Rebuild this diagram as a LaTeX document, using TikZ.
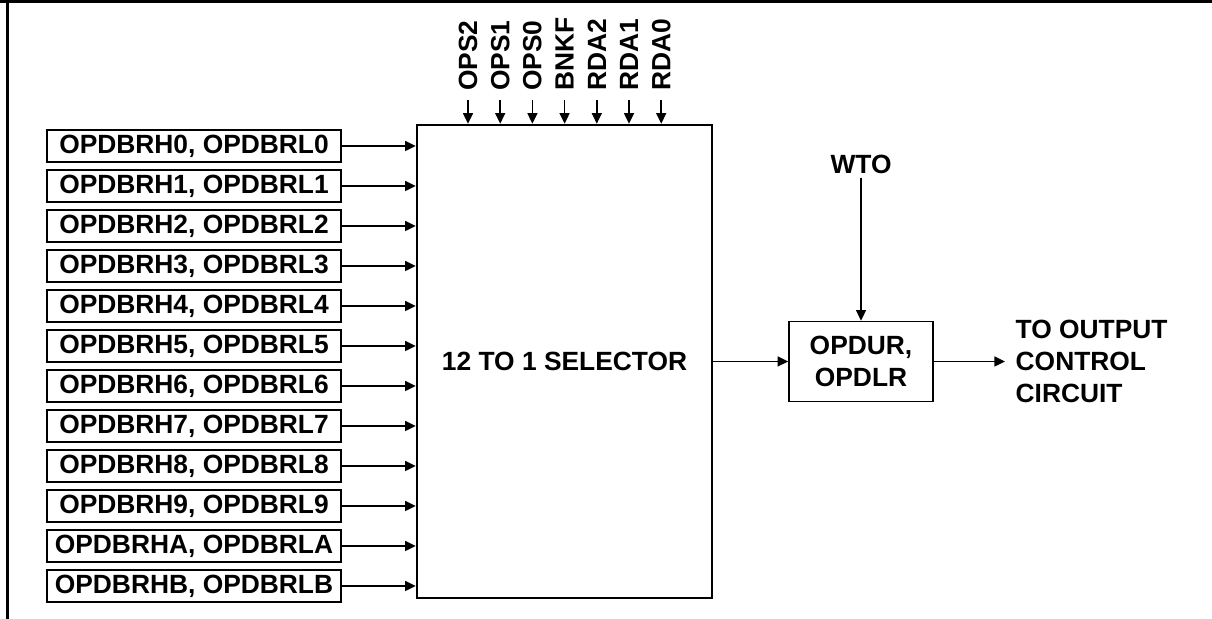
\documentclass[tikz,border=0pt]{standalone}
\usepackage{fontspec}
\setmainfont{Liberation Sans}
\usetikzlibrary{arrows.meta}
\tikzset{
  sig/.style={line width=0.45pt, -{Triangle[length=3pt,width=2.8pt]}},
  regbox/.style={draw, line width=0.45pt, minimum width=2.94cm, minimum height=0.32cm, inner sep=0pt},
  ctl/.style={rotate=90, anchor=west, inner sep=2.4pt}
}
\begin{document}
\begin{tikzpicture}[font=\fontsize{7.5}{9}\selectfont\bfseries]
  \useasboundingbox (0,0) rectangle (12.12,6.19);
  % frame
  \draw[line width=0.9pt] (0,6.175) -- (12.12,6.175);
  \draw[line width=0.9pt] (0.075,0) -- (0.075,6.19);

  \node[draw, line width=0.7pt, minimum width=2.95cm, minimum height=4.73cm] (sel) at (5.645,2.575) {12 TO 1 SELECTOR};

  % inputs
  \foreach \n [count=\i from 0] in {0,1,2,3,4,5,6,7,8,9,A,B} {
    \node[regbox] (in\i) at (1.94,4.73-0.4*\i) {OPDBRH\n, OPDBRL\n};
    \draw[sig] (in\i.east) -- (in\i.east -| sel.west);
  }

  % control signals
  \foreach \s [count=\i from 0] in {OPS2,OPS1,OPS0,BNKF,RDA2,RDA1,RDA0} {
    \coordinate (c\i) at (4.68+0.322*\i,5.19);
    \node[ctl] (lb\i) at (c\i) {\s};
    \draw[sig] (c\i) -- (c\i |- sel.north);
  }

  \node[draw, line width=0.45pt, minimum width=1.44cm, minimum height=0.8cm, align=center] (opd) at (8.61,2.575) {OPDUR,\\OPDLR};
  \node[inner sep=1pt] (wto) at (8.61,4.55) {WTO};
  \node[anchor=west, align=left, inner sep=0.1cm] (out) at (10.05,2.575) {TO OUTPUT\\CONTROL\\CIRCUIT};

  \draw[sig] (sel.east) -- (opd.west);
  \draw[sig] (wto.south) -- (opd.north);
  \draw[sig] (opd.east) -- (out.west);
\end{tikzpicture}
\end{document}
